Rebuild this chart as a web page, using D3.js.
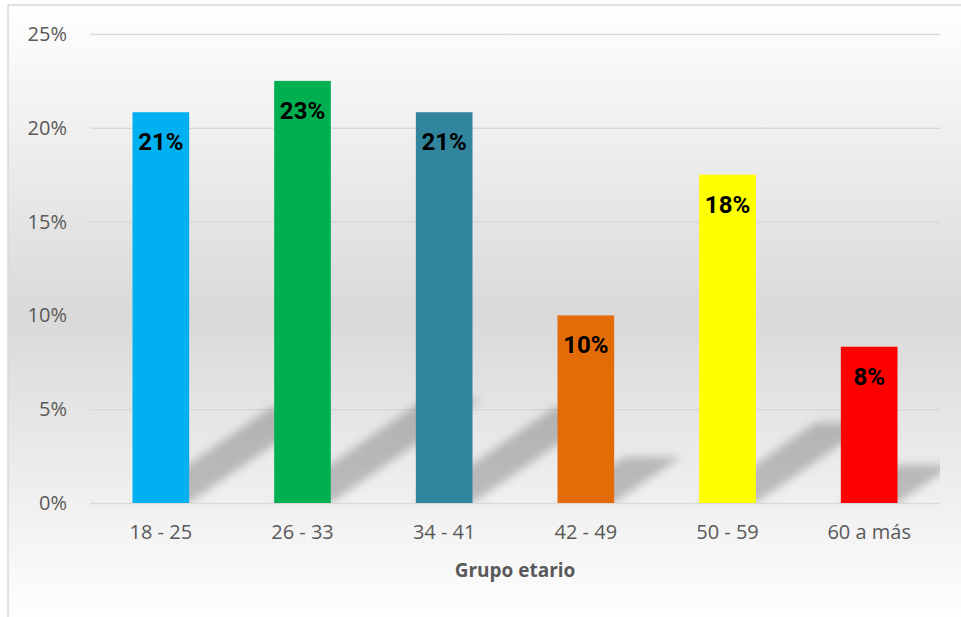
<!DOCTYPE html>
<html>
<head>
<meta charset="utf-8">
<script src="https://cdn.jsdelivr.net/npm/d3@7"></script>
<style>
  body { margin: 0; background: #fff; }
  svg { display: block; }
</style>
</head>
<body>
<svg id="chart" width="961" height="617"></svg>
<script>
// data
let groups = ["18 - 25", "26 - 33", "34 - 41", "42 - 49", "50 - 59", "60 a más"];
let shares = [0.2083, 0.225, 0.2083, 0.10, 0.175, 0.0833];
let labels = ["21%", "23%", "21%", "10%", "18%", "8%"];
let barColors = ["#00B0F0", "#00B050", "#31859C", "#E36C09", "#FFFF00", "#FF0000"];
let yTicks = [0, 0.05, 0.10, 0.15, 0.20, 0.25];
let xTitle = "Grupo etario";

var DrawBarChart = function(){
  let svg = d3.select("#chart");
  let margin = { top: 34, right: 21, bottom: 114, left: 90 };
  let plotWidth = 961 - margin.left - margin.right;
  let plotHeight = 617 - margin.top - margin.bottom;

  let defs = svg.append("defs");
  // chart area background: white at top, grey in the middle, white again at bottom
  let grad = defs.append("linearGradient").attr("id", "bg")
      .attr("x1", 0).attr("y1", 0).attr("x2", 0).attr("y2", 1);
  grad.append("stop").attr("offset", "0%").attr("stop-color", "#ffffff");
  grad.append("stop").attr("offset", "50%").attr("stop-color", "#d9d9d9");
  grad.append("stop").attr("offset", "100%").attr("stop-color", "#ffffff");

  let blur = defs.append("filter").attr("id", "blur")
      .attr("x", "-30%").attr("y", "-30%").attr("width", "160%").attr("height", "160%");
  blur.append("feGaussianBlur").attr("stdDeviation", 4);

  defs.append("clipPath").attr("id", "plotClip")
    .append("rect").attr("x", 0).attr("y", -margin.top)
    .attr("width", plotWidth).attr("height", plotHeight + margin.top);

  // chart area with border on the top and left (the rest is cropped off)
  svg.append("rect")
      .attr("x", 8).attr("y", 5)
      .attr("width", 970).attr("height", 620)
      .attr("fill", "url(#bg)")
      .attr("stroke", "#d9d9d9")
      .attr("stroke-width", 1.5);

  let plot = svg.append("g").attr("id", "plot")
      .attr("transform", "translate(" + margin.left + "," + margin.top + ")");

  let y = d3.scaleLinear()
      .domain([0, 0.25])
      .range([plotHeight, 0]);

  let x = d3.scaleBand()
      .domain(groups)
      .range([0, plotWidth])
      .paddingInner(0.6)
      .paddingOuter(0.3);

  // gridlines + y labels
  let yAxis = d3.axisLeft(y)
      .tickValues(yTicks)
      .tickSize(-plotWidth)
      .tickPadding(23)
      .tickFormat(d3.format(".0%"));
  let yGroup = plot.append("g").attr("id", "y-axis").call(yAxis);
  yGroup.select(".domain").remove();
  yGroup.selectAll("line").attr("stroke", "#d9d9d9").attr("stroke-width", 1.5);
  yGroup.selectAll("text")
      .attr("fill", "#595959")
      .style("font-family", "'Open Sans', sans-serif")
      .style("font-size", "20px");

  // x labels
  let xAxis = d3.axisBottom(x).tickSize(0).tickPadding(22);
  let xGroup = plot.append("g").attr("id", "x-axis")
      .attr("transform", "translate(0," + plotHeight + ")")
      .call(xAxis);
  xGroup.select(".domain").remove();
  xGroup.selectAll("text")
      .attr("fill", "#595959")
      .style("font-family", "'Open Sans', sans-serif")
      .style("font-size", "20px");

  // perspective shadows: bar squashed to ~1/4 height and slanted to the right
  plot.append("g").attr("clip-path", "url(#plotClip)")
    .selectAll("path.shadow")
    .data(shares)
    .enter().append("path")
      .attr("class", "shadow")
      .attr("fill", "#000")
      .attr("fill-opacity", 0.22)
      .attr("filter", "url(#blur)")
      .attr("d", function(d, i) {
        let x0 = x(groups[i]);
        let w = x.bandwidth();
        let rise = (plotHeight - y(d)) * 0.245;
        let shift = rise * 1.45;
        return "M" + x0 + "," + plotHeight +
          "L" + (x0 + w) + "," + plotHeight +
          "L" + (x0 + w + shift) + "," + (plotHeight - rise) +
          "L" + (x0 + shift) + "," + (plotHeight - rise) + "Z";
      });

  plot.selectAll("rect.bar")
    .data(shares)
    .enter().append("rect")
      .attr("class", "bar")
      .attr("x", function(d, i) { return x(groups[i]); })
      .attr("y", function(d) { return y(d); })
      .attr("width", x.bandwidth())
      .attr("height", function(d) { return plotHeight - y(d); })
      .attr("fill", function(d, i) { return barColors[i]; });

  plot.selectAll("text.value")
    .data(shares)
    .enter().append("text")
      .attr("class", "value")
      .attr("x", function(d, i) { return x(groups[i]) + x.bandwidth() / 2; })
      .attr("y", function(d) { return y(d) + 38; })
      .attr("text-anchor", "middle")
      .style("font-family", "Roboto, sans-serif")
      .style("font-weight", "bold")
      .style("font-size", "24px")
      .style("fill", "#000")
      .text(function(d, i) { return labels[i]; });

  svg.append("text")
      .attr("x", margin.left + plotWidth / 2)
      .attr("y", 577)
      .attr("text-anchor", "middle")
      .style("font-family", "'Open Sans', sans-serif")
      .style("font-weight", "bold")
      .style("font-size", "19px")
      .style("fill", "#595959")
      .text(xTitle);
};
DrawBarChart();
</script>
</body>
</html>
